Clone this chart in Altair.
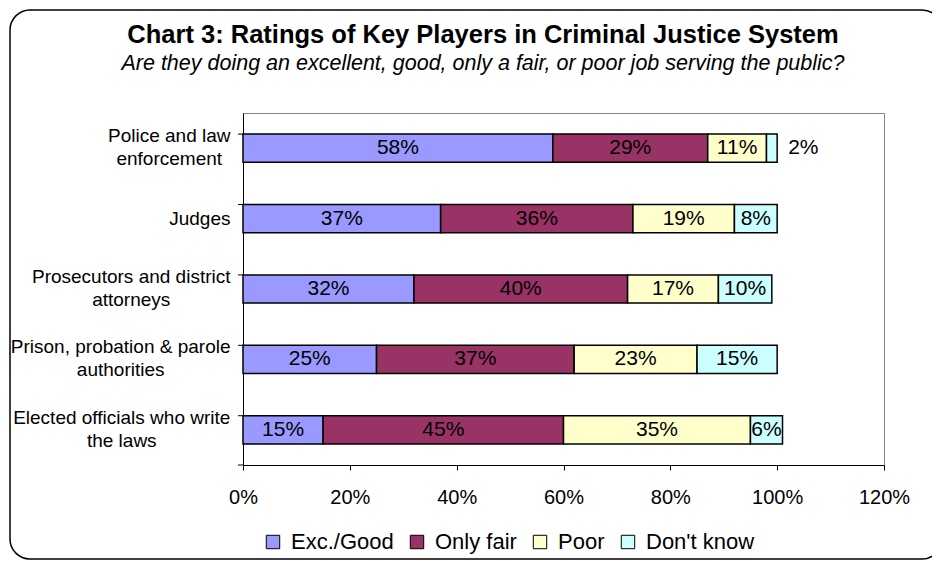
import altair as alt
import pandas as pd

# ---- data ----
categories = [
    "Police and law\nenforcement",
    "Judges",
    "Prosecutors and district\nattorneys",
    "Prison, probation & parole\nauthorities",
    "Elected officials who write\nthe laws",
]
series_names = ["Exc./Good", "Only fair", "Poor", "Don't know"]
exc_good = [58, 37, 32, 25, 15]
only_fair = [29, 36, 40, 37, 45]
poor = [11, 19, 17, 23, 35]
dont_know = [2, 8, 10, 15, 6]
x_ticks = [0, 20, 40, 60, 80, 100, 120]
colors = ["#9999FF", "#993366", "#FFFFCC", "#CCFFFF"]

title_text = "Chart 3: Ratings of Key Players in Criminal Justice System"
subtitle_text = "Are they doing an excellent, good, only a fair, or poor job serving the public?"

rows = []
for s_i, (name, vals) in enumerate(zip(series_names, [exc_good, only_fair, poor, dont_know])):
    for c, v in zip(categories, vals):
        rows.append({"cat": c, "series": name, "value": v, "sorder": s_i})
df = pd.DataFrame(rows)

W, H = 641, 352
FONT = "Liberation Sans"
YLAB_SIZE = 19
YLAB_PAD = 13

# Arial / Liberation Sans advance widths (1/1000 em) used to centre the
# second line of two-line category labels under the first line.
_ADV = {
    "P": 667, "o": 556, "l": 222, "i": 222, "c": 500, "e": 556, " ": 278, "a": 556,
    "n": 556, "d": 556, "w": 722, "f": 278, "r": 333, "m": 833, "t": 278, "J": 500,
    "u": 556, "g": 556, "s": 500, "p": 556, "x": 500, "b": 556, "&": 667, "h": 556,
    ",": 278, "E": 667, "y": 500, "k": 500,
}


def text_width(s, size):
    return sum(_ADV.get(ch, 556) for ch in s) * size / 1000.0


pad_conditions = []
for c in categories:
    if "\n" in c:
        first = c.split("\n")[0]
        pad_conditions.append({
            "test": "split(datum.label, '\\n')[0] == '" + first + "'",
            "value": YLAB_PAD + text_width(first, YLAB_SIZE) / 2.0,
        })

multi_test = "indexof(datum.label, '\\n') >= 0"


def y_enc(**kw):
    return alt.Y(
        "cat:N",
        sort=categories,
        scale=alt.Scale(paddingInner=0.6, paddingOuter=0.3),
        axis=alt.Axis(
            title=None,
            ticks=False,
            labelExpr="split(datum.label, '\\n')",
            labelFontSize=YLAB_SIZE,
            labelLineHeight=23,
            labelPadding={"condition": pad_conditions, "value": YLAB_PAD},
            labelLimit=400,
            labelAlign={"condition": {"test": multi_test, "value": "center"}, "value": "right"},
            labelBaseline="middle",
            labelOffset={"condition": {"test": multi_test, "value": -12}, "value": 0},
            domainColor="black",
            labelColor="black",
            labelFont=FONT,
        ),
        **kw,
    )


x_scale = alt.Scale(domain=[0, 120], nice=False)
x_axis = alt.Axis(
    values=x_ticks,
    labelExpr="datum.value + '%'",
    title=None,
    grid=False,
    tickSize=5,
    tickColor="black",
    domainColor="black",
    labelFontSize=20,
    labelPadding=17,
    labelFlush=False,
    labelColor="black",
    labelFont=FONT,
)

base = alt.Chart(df).transform_stack(
    stack="value", groupby=["cat"], as_=["x0", "x1"], sort=[alt.SortField("sorder")]
).transform_calculate(mid="(datum.x0 + datum.x1) / 2", lab="datum.value + '%'")

bars = base.mark_bar(stroke="black", strokeWidth=1.5).encode(
    y=y_enc(),
    x=alt.X("x0:Q", scale=x_scale, axis=x_axis),
    x2="x1:Q",
    color=alt.Color(
        "series:N",
        scale=alt.Scale(domain=series_names, range=colors),
        legend=alt.Legend(
            title=None,
            orient="none",
            legendX=19,
            legendY=418,
            direction="horizontal",
            symbolType="square",
            symbolSize=180,
            symbolStrokeColor="black",
            symbolStrokeWidth=1,
            labelFontSize=22,
            labelFont=FONT,
            labelColor="black",
            labelOffset=7,
            columnPadding=12,
        ),
    ),
)

labels_in = base.transform_filter("datum.value >= 5").mark_text(
    fontSize=21, font=FONT, color="black", baseline="middle"
).encode(y=y_enc(), x=alt.X("mid:Q", scale=x_scale, axis=x_axis), text="lab:N")

labels_out = base.transform_filter("datum.value < 5").mark_text(
    fontSize=21, font=FONT, color="black", baseline="middle", align="left", dx=11
).encode(y=y_enc(), x=alt.X("x1:Q", scale=x_scale, axis=x_axis), text="lab:N")

ticks_y = alt.Chart(pd.DataFrame({"cat": categories})).mark_rule(color="black").encode(
    y=y_enc(bandPosition=0), x=alt.value(-5), x2=alt.value(0)
)
tick_bottom = alt.Chart(alt.Data(values=[{}])).mark_rule(color="black").encode(
    y=alt.value(H), x=alt.value(-5), x2=alt.value(0)
)

frame = alt.Chart(alt.Data(values=[{}])).mark_rect(
    fill="white", fillOpacity=0, stroke="black", strokeWidth=1.5, cornerRadius=20
).encode(x=alt.value(-233), x2=alt.value(699), y=alt.value(-103), y2=alt.value(446))

title = alt.Chart(alt.Data(values=[{}])).mark_text(
    text=title_text, fontSize=25.5, fontWeight="bold", font=FONT, color="black",
    align="center", baseline="middle"
).encode(x=alt.value(240), y=alt.value(-78))

subtitle = alt.Chart(alt.Data(values=[{}])).mark_text(
    text=subtitle_text, fontSize=21.5, fontStyle="italic", font=FONT, color="black",
    align="center", baseline="middle"
).encode(x=alt.value(240), y=alt.value(-49))

chart = alt.layer(frame, title, subtitle, bars, labels_in, labels_out, ticks_y, tick_bottom).properties(
    width=W,
    height=H,
    autosize=alt.AutoSizeParams(type="none"),
    padding={"left": 235, "top": 105, "right": 48, "bottom": 96},
    background="white",
).configure_view(stroke="#888888", strokeWidth=1)

chart.save("out.html", embed_options={"renderer": "svg", "actions": False})
